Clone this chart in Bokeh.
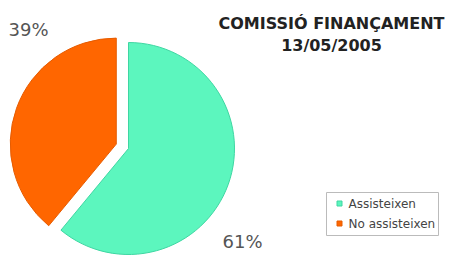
import numpy as np
from bokeh.plotting import figure
from bokeh.models import ColumnDataSource, Range1d
from bokeh.core.properties import value
from bokeh.embed import file_html
from bokeh.resources import INLINE

# ---- data ----
categories = ["Assisteixen", "No assisteixen"]
shares = [61, 39]
colors = ["#5CF6BE", "#FF6600"]
edge_colors = ["#3FD6A2", "#E65C00"]
title_lines = ["COMISSIÓ FINANÇAMENT", "13/05/2005"]

# ---- layout ----
W, H = 451, 255
cx, cy, r = 128, 107, 106
explode = [0, 13]

vals = np.array(shares, dtype=float)
frac = vals / vals.sum()
cum = np.concatenate([[0], np.cumsum(frac)])
start = np.pi / 2 - 2 * np.pi * cum[:-1]
end = np.pi / 2 - 2 * np.pi * cum[1:]
mid = (start + end) / 2
xs = cx + np.array(explode) * np.cos(mid)
ys = cy + np.array(explode) * np.sin(mid)

src = ColumnDataSource(dict(x=xs, y=ys, start=start, end=end,
                            color=colors, edge=edge_colors, cat=categories))

p = figure(width=W, height=H, x_range=Range1d(0, W), y_range=Range1d(0, H),
           output_backend="svg", toolbar_location=None, min_border=0)
p.axis.visible = False
p.grid.visible = False
p.outline_line_color = None
p.background_fill_color = "white"
p.border_fill_color = "white"

p.wedge(x="x", y="y", radius=r, start_angle="start", end_angle="end",
        direction="clock", fill_color="color", line_color="edge",
        line_width=1, source=src)

# percentage labels
pct_text = [f"{int(round(v))}%" for v in shares]
label_x = [242, 28]
label_y = [14, 226.5]
p.text(x=label_x, y=label_y, text=pct_text, text_font=value("DejaVu Sans"),
       text_font_size="18px", text_color="#555555", text_align="center",
       text_baseline="middle")

# title
p.text(x=[331, 331], y=[232, 210], text=title_lines,
       text_font=value("DejaVu Sans"), text_font_style="bold",
       text_font_size="16px", text_color="#222222", text_align="center",
       text_baseline="middle")

# legend (drawn manually)
p.rect(x=[382], y=[41.5], width=112, height=43, fill_color="white",
       line_color="#BBBBBB", line_width=1)
leg_y = [52, 32]
p.scatter(x=[339, 339], y=leg_y, marker="square", size=5,
          fill_color=colors, line_color=edge_colors)
p.text(x=[348, 348], y=leg_y, text=categories, text_font=value("DejaVu Sans"),
       text_font_size="12px", text_color="#444444", text_align="left",
       text_baseline="middle")

open("out.html", "w").write(file_html(p, INLINE))
